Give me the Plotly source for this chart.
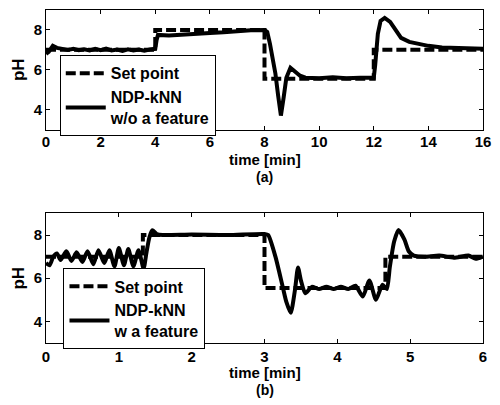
import plotly.graph_objects as go

# ---- Panel (a) data ----
sp_a_t = [0, 4, 4, 8, 8, 12, 12, 16]
sp_a_ph = [7, 7, 8, 8, 5.55, 5.55, 7, 7]

nn_a_t = [0.0, 0.1, 0.25, 0.4, 0.6, 0.8, 1.0, 1.2, 1.4, 1.6, 1.8, 2.0, 2.2, 2.4, 2.6, 2.8,
          3.0, 3.2, 3.4, 3.6, 3.8, 4.0, 4.05, 4.1, 4.5, 5.0, 5.5, 6.0, 6.5, 7.0, 7.5, 8.0,
          8.1, 8.2, 8.3, 8.4, 8.5, 8.6, 8.7, 8.8, 8.95, 9.1, 9.3, 9.5, 10.0, 10.5, 11.0,
          11.5, 12.0, 12.05, 12.15, 12.25, 12.4, 12.6, 12.8, 13.0, 13.3, 13.6, 14.0, 14.5,
          15.0, 15.5, 16.0]
nn_a_ph = [6.8, 6.9, 7.2, 7.1, 7.05, 7.0, 7.05, 6.98, 7.03, 6.97, 7.05, 6.98, 7.06, 6.97, 7.02, 6.95,
           7.03, 6.97, 7.02, 6.96, 7.02, 7.05, 7.5, 7.75, 7.72, 7.78, 7.8, 7.85, 7.88, 7.95, 7.98, 8.0,
           7.9, 7.3, 6.6, 5.8, 4.7, 3.7, 4.6, 5.6, 6.1, 5.95, 5.7, 5.6, 5.58, 5.62, 5.57,
           5.6, 5.6, 6.2, 7.8, 8.45, 8.6, 8.4, 8.0, 7.6, 7.4, 7.3, 7.2, 7.12,
           7.1, 7.08, 7.05]

# ---- Panel (b) data ----
sp_b_t = [0, 1.33, 1.33, 3.0, 3.0, 4.66, 4.66, 6]
sp_b_ph = [7, 7, 8, 8, 5.55, 5.55, 7, 7]

nn_b_t = [0.0, 0.05, 0.1, 0.15, 0.2, 0.28, 0.35, 0.42, 0.5, 0.57, 0.65, 0.72, 0.8, 0.87, 0.94,
          1.0, 1.07, 1.13, 1.2, 1.27, 1.34, 1.38, 1.42, 1.46, 1.52, 1.6, 2.0, 2.5, 3.0, 3.05,
          3.15, 3.25, 3.3, 3.36, 3.42, 3.46, 3.5, 3.56, 3.65, 3.75, 3.85, 3.95, 4.05, 4.15,
          4.25, 4.35, 4.44, 4.53, 4.62, 4.68, 4.72, 4.78, 4.84, 4.92, 4.98, 5.05, 5.2, 5.4,
          5.6, 5.8, 5.9, 6.0]
nn_b_ph = [6.7, 6.6, 7.0, 7.15, 6.85, 7.25, 6.8, 7.2, 6.75, 7.25, 6.65, 7.3, 6.7, 7.3, 6.55,
           7.4, 6.6, 7.35, 6.55, 7.3, 6.45, 7.2, 7.9, 8.22, 8.05, 8.0, 8.02, 8.0, 8.05, 8.0,
           7.0, 5.6, 4.9, 4.4, 5.5, 6.5, 5.9, 5.3, 5.6, 5.5, 5.6, 5.5, 5.6, 5.5,
           5.65, 5.15, 5.9, 5.0, 5.7, 5.5, 6.5, 7.7, 8.23, 7.8, 7.25, 7.05, 7.0, 7.05,
           6.95, 7.05, 6.9, 7.0]

FONT = "Liberation Sans, Arial, sans-serif"
DASH = "10px,4px"
LW = 4

fig = go.Figure()
fig.add_trace(go.Scatter(x=sp_a_t, y=sp_a_ph, mode="lines", name="Set point",
                         line=dict(color="black", width=LW, dash=DASH),
                         xaxis="x", yaxis="y", legend="legend"))
fig.add_trace(go.Scatter(x=nn_a_t, y=nn_a_ph, mode="lines", name="NDP-kNN<br>w/o a feature",
                         line=dict(color="black", width=LW),
                         xaxis="x", yaxis="y", legend="legend"))
fig.add_trace(go.Scatter(x=sp_b_t, y=sp_b_ph, mode="lines", name="Set point",
                         line=dict(color="black", width=LW, dash=DASH),
                         xaxis="x2", yaxis="y2", legend="legend2"))
fig.add_trace(go.Scatter(x=nn_b_t, y=nn_b_ph, mode="lines", name="NDP-kNN<br>w a feature",
                         line=dict(color="black", width=LW, shape="spline", smoothing=0.6),
                         xaxis="x2", yaxis="y2", legend="legend2"))

tickfont = dict(family=FONT, size=15, color="black", weight="bold")
common_axis = dict(showline=True, mirror="ticks", linecolor="black", linewidth=1,
                   ticks="inside", ticklen=4, tickcolor="black", showgrid=False,
                   zeroline=False, tickfont=tickfont)
ytitle_font = dict(family=FONT, size=17, color="black", weight="bold")

legend_common = dict(bgcolor="white", bordercolor="black", borderwidth=1,
                     font=dict(family=FONT, size=16, color="black", weight="bold"),
                     xanchor="left", yanchor="top", itemwidth=40, tracegroupgap=0)

ann_font = dict(family=FONT, size=15, color="black", weight="bold")
lab_font = dict(family=FONT, size=14, color="black", weight="bold")

fig.update_layout(
    width=500, height=405,
    margin=dict(l=46, r=9, t=9, b=62),
    paper_bgcolor="white", plot_bgcolor="white",
    showlegend=True,
    xaxis=dict(domain=[0, 1], range=[0, 16], dtick=2, anchor="y", ticklabelstandoff=-2,
               **common_axis),
    yaxis=dict(domain=[0.641, 1], range=[3, 9], tickvals=[4, 6, 8], anchor="x",
               title=dict(text="pH", font=ytitle_font, standoff=4), **common_axis),
    xaxis2=dict(domain=[0, 1], range=[0, 6], dtick=1, anchor="y2", ticklabelstandoff=0,
                **common_axis),
    yaxis2=dict(domain=[0, 0.389], range=[3, 9], tickvals=[4, 6, 8], anchor="x2",
                title=dict(text="pH", font=ytitle_font, standoff=4), **common_axis),
    legend=dict(x=0.0315, y=0.864, **legend_common),
    legend2=dict(x=0.040, y=0.224, **legend_common),
    annotations=[
        dict(text="time [min]", x=0.5, y=0.551, xref="paper", yref="paper", showarrow=False,
             xanchor="center", yanchor="middle", font=ann_font),
        dict(text="(a)", x=0.5, y=0.500, xref="paper", yref="paper", showarrow=False,
             xanchor="center", yanchor="middle", font=lab_font),
        dict(text="time [min]", x=0.5, y=-0.088, xref="paper", yref="paper", showarrow=False,
             xanchor="center", yanchor="middle", font=ann_font),
        dict(text="(b)", x=0.5, y=-0.141, xref="paper", yref="paper", showarrow=False,
             xanchor="center", yanchor="middle", font=lab_font),
    ],
)

fig.write_html("out.html")
